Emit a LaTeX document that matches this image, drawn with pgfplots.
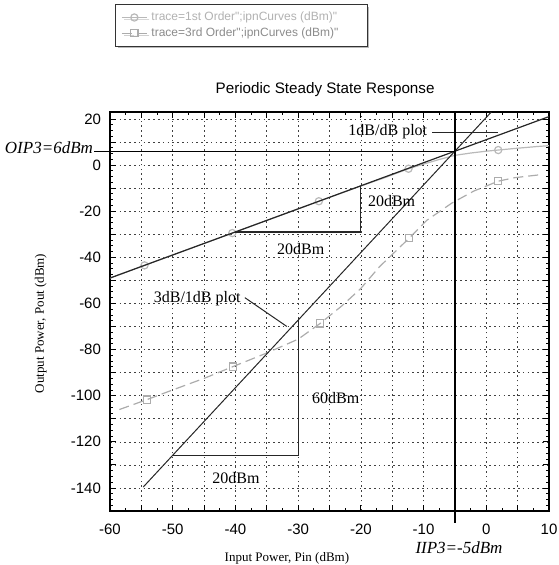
\documentclass[border=0pt]{standalone}
\usepackage{fontspec}
\setmainfont{Liberation Serif}
\newfontfamily\arial{Liberation Sans}
\usepackage{pgfplots}
\pgfplotsset{compat=1.18}
\usetikzlibrary{shadows}

\begin{document}
\begin{tikzpicture}
\begin{axis}[
  scale only axis,
  width=219.5pt, height=199.5pt,
  xmin=-60, xmax=10, ymin=-150, ymax=23,
  xtick={-60,-55,...,10},
  xticklabels={-60,,-50,,-40,,-30,,-20,,-10,,0,,10},
  ytick={-150,-140,...,20},
  yticklabels={,-140,,-120,,-100,,-80,,-60,,-40,,-20,,0,,20},
  minor x tick num=1,
  minor y tick num=3,
  grid=major,
  major grid style={black!75, line width=0.3pt, dash pattern=on 0.8pt off 1.6pt},
  tick style={black, line width=0.4pt},
  major tick length=3pt, minor tick length=1.5pt,
  axis line style={black, line width=0.6pt},
  ticklabel style={font=\arial\fontsize{7.5}{9}\selectfont},
  xticklabel style={yshift=-3pt},
  yticklabel style={xshift=-1pt},
  clip mode=individual,
  title={Periodic Steady State Response},
  title style={font=\arial\fontsize{7.6}{9}\selectfont, at={(axis description cs:0.49,1)}, anchor=base, yshift=3pt},
  xlabel={Input Power, Pin (dBm)},
  xlabel style={font=\fontsize{6.5}{8}\selectfont, at={(axis description cs:0.403,-0.1175)}, anchor=center},
  ylabel={Output Power, Pout (dBm)},
  ylabel style={font=\fontsize{6.5}{8}\selectfont, at={(axis description cs:-0.158,0.47)}, anchor=center},
  legend image code/.code={
    \draw[mark repeat=2, mark phase=2, #1] plot coordinates {(0cm,0cm) (0.22cm,0cm) (0.44cm,0cm)};
  },
  legend style={at={(axis description cs:0.011,1.27)}, anchor=north west,
    font=\arial\fontsize{6}{7}\selectfont, draw=black!80, line width=0.4pt, fill=white,
    drop shadow={shadow xshift=1.2pt, shadow yshift=-1.2pt, fill=black!55},
    inner xsep=3pt, inner ysep=1.5pt, row sep=-2pt, cells={anchor=west}},
]
% 1st order fundamental
\addplot[gray!55, line width=0.6pt, mark=o, mark size=1.8pt, mark indices={2,4,6,9,15}, mark options={solid}] coordinates {
  (-60,-49) (-54.5,-43.5) (-47,-36) (-40.5,-29.5) (-33,-22) (-26.7,-15.7)
  (-20,-9.1) (-16,-5.3) (-12.4,-1.6) (-10,0.4) (-7.5,2.4) (-5,4.2)
  (-2.5,5.2) (0,6.0) (1.9,6.5) (5,7.3) (8,8.0) (10,8.4)
};
\addlegendentry{\textcolor{gray!60}{trace=1st Order";ipnCurves (dBm)"}\hspace*{10pt}}
% 3rd order IM
\addplot[gray!65, line width=0.6pt, dash pattern=on 5pt off 2.5pt, mark=square, mark size=1.8pt, mark indices={2,5,8,13,17}, mark options={solid}] coordinates {
  (-58.5,-106) (-54.1,-101.7) (-50,-97.5) (-45,-92.5) (-40.4,-87.4) (-35,-81.5)
  (-30,-75.5) (-26.5,-68.7) (-23,-61) (-20,-53.5) (-17,-44) (-14.5,-37.5)
  (-12.3,-31.7) (-9.5,-24) (-5.5,-16.5) (-2,-11.3) (1.9,-7) (4.5,-5.5) (8.3,-4.3)
};
\addlegendentry{\textcolor{gray!90}{trace=3rd Order";ipnCurves (dBm)"}}
% extrapolated 1dB/dB and 3dB/dB lines
\addplot[black!85, line width=0.6pt, forget plot] coordinates {(-60,-49) (10,21)};
\addplot[black!85, line width=0.5pt, forget plot] coordinates {(-54.7,-139.6) (0.8,23)};

% slope triangles and pointers
\draw[black!85, line width=0.6pt] (axis cs:-40,-29) -- (axis cs:-20,-29) -- (axis cs:-20,-9);
\draw[black!85, line width=0.6pt] (axis cs:-50,-126) -- (axis cs:-30,-126) -- (axis cs:-30,-66.5);
\draw[black!85, line width=0.5pt] (axis cs:-8.6,14) -- (axis cs:1.8,14);
\draw[black!85, line width=0.5pt] (axis cs:-38.5,-57.5) -- (axis cs:-31.8,-70);
% intercept lines
\draw[black, line width=0.6pt] (axis cs:-62.5,6) -- (axis cs:-5,6);
\draw[black, line width=0.6pt] (axis cs:-5,23) -- (axis cs:-5,-155);

\node[font=\fontsize{8}{9}\selectfont] at (axis cs:-15.1,-15.5) {20dBm};
\node[font=\fontsize{8}{9}\selectfont] at (axis cs:-29.6,-36.5) {20dBm};
\node[font=\fontsize{8}{9}\selectfont] at (axis cs:-39.9,-135.7) {20dBm};
\node[font=\fontsize{8}{9}\selectfont] at (axis cs:-24,-100.9) {60dBm};
\node[font=\fontsize{8}{9}\selectfont] at (axis cs:-15.7,14.3) {1dB/dB plot};
\node[font=\fontsize{8}{9}\selectfont] at (axis cs:-46.1,-57.8) {3dB/1dB plot};
\node[font=\itshape\fontsize{8.5}{10}\selectfont, anchor=base east, inner sep=0.5pt] at (axis cs:-62.5,5) {OIP3=6dBm};
\node[font=\itshape\fontsize{8.5}{10}\selectfont] at (axis description cs:0.795,-0.0925) {IIP3=-5dBm};
\end{axis}
\pgfresetboundingbox
\path[use as bounding box] ([shift={(-55pt,-27pt)}]current axis.south west) rectangle ([shift={(224pt,255.5pt)}]current axis.south west);
\end{tikzpicture}
\end{document}
